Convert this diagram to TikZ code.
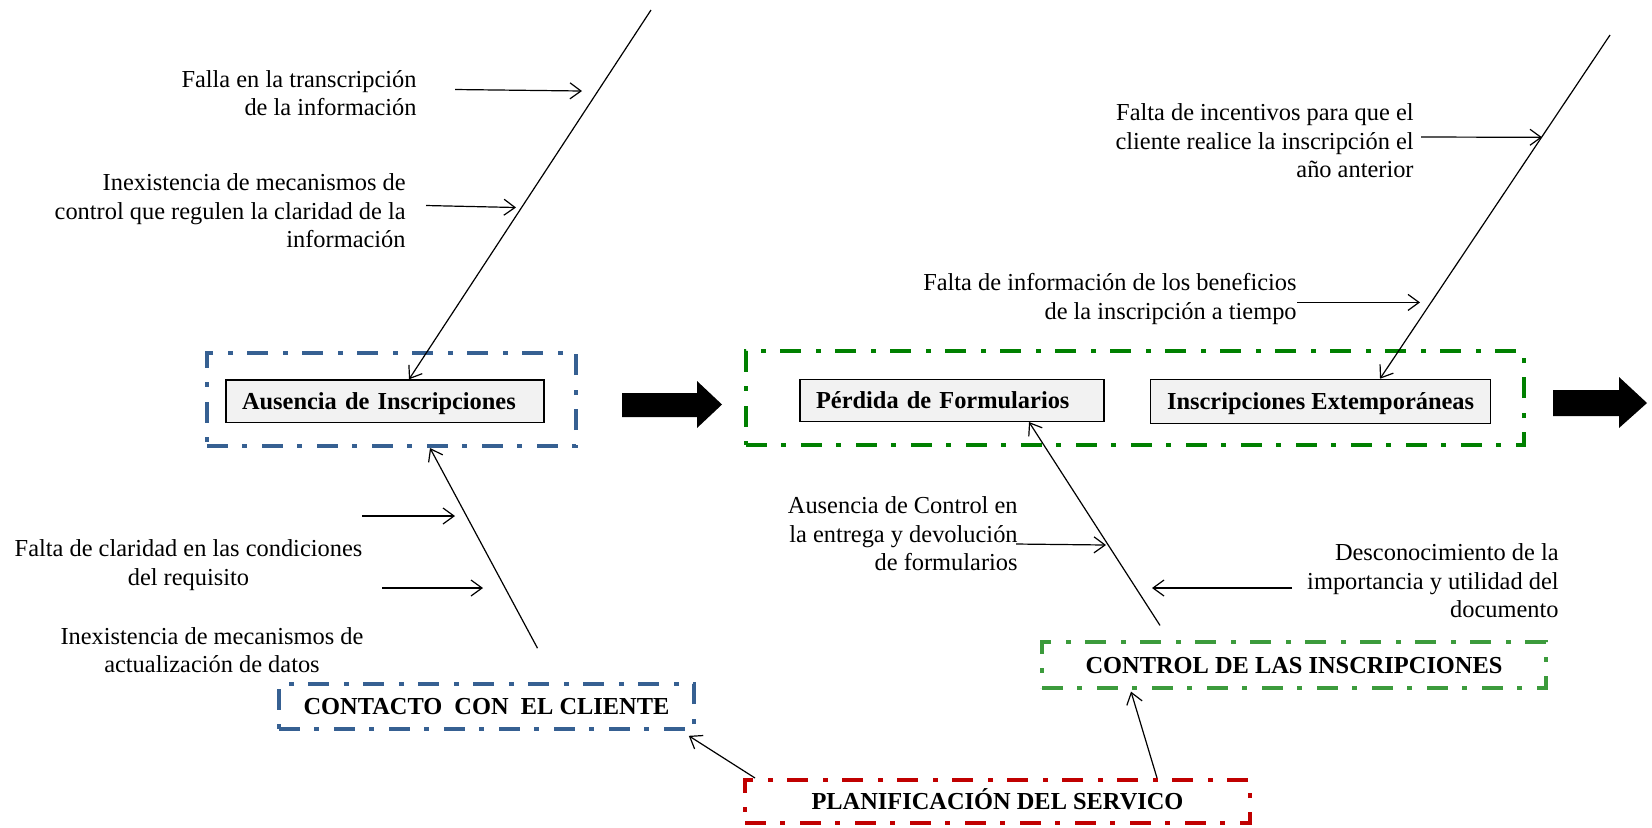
\documentclass[tikz,border=0pt]{standalone}
\usepackage{fontspec}
\setmainfont{Liberation Serif}
\usetikzlibrary{arrows.meta,calc}

\definecolor{boxblue}{RGB}{54,96,146}
\definecolor{darkgreen}{RGB}{0,128,0}
\definecolor{lightgreen}{RGB}{60,155,60}
\definecolor{boxred}{RGB}{192,0,0}
\definecolor{boxfill}{RGB}{242,242,242}

\tikzset{
  dashdot/.style={dash pattern=on 10.5pt off 7pt on 2.5pt off 7.5pt},
  frame/.style={draw, dashdot, inner sep=0pt, text height=8pt, text depth=0pt,
                font=\bfseries\fontsize{12.2}{14}\selectfont},
  effect/.style={draw=black, fill=boxfill, line width=0.7pt, inner sep=0pt,
                 text height=8pt, text depth=0pt,
                 font=\bfseries\fontsize{12.2}{14}\selectfont},
  cause/.style={font=\fontsize{12.2}{14.25}\selectfont, inner sep=0pt},
  arr/.style={-{Straight Barb[length=5.5pt,width=8pt]}, line width=0.6pt},
  bigarrow/.style={fill=black},
}

\begin{document}
\begin{tikzpicture}[x=0.5pt,y=-0.5pt]
\path[use as bounding box] (0,0) rectangle (1652,827);

% ---- problem groups ----
\node[frame, draw=boxblue, line width=2pt, minimum width=184.5pt, minimum height=46.5pt]
  (grpA) at (391.5,399.5) {};
\node[effect, minimum width=159pt, minimum height=21.3pt, text width=143pt, align=left]
  (ausencia) at (385,401.3) {Ausencia de Inscripciones};

\node[frame, draw=darkgreen, line width=1.8pt, minimum width=389pt, minimum height=47pt]
  (grpB) at (1135,398) {};
\node[effect, minimum width=152pt, minimum height=21pt, text width=136pt, align=left]
  (perdida) at (952,400.3) {Pérdida de Formularios};
\node[effect, minimum width=170pt, minimum height=22pt]
  (extemp) at (1320.6,401.4) {Inscripciones Extemporáneas};

% ---- cause categories ----
\node[frame, draw=boxblue, line width=1.8pt, minimum width=207.5pt, minimum height=22.5pt]
  (contacto) at (486.5,706.5) {CONTACTO\ \ CON\ \ EL CLIENTE};
\node[frame, draw=lightgreen, line width=1.6pt, minimum width=252pt, minimum height=23pt]
  (control) at (1294,665) {CONTROL DE LAS INSCRIPCIONES};
\node[frame, draw=boxred, line width=2pt, minimum width=252.5pt, minimum height=21.5pt]
  (plan) at (997.5,801.5) {PLANIFICACIÓN DEL SERVICO};

% ---- flow arrows ----
\fill[bigarrow] (622,393) -- (697,393) -- (697,381) -- (722,404.5) -- (697,428)
  -- (697,417) -- (622,417) -- cycle;
\fill[bigarrow] (1553,390) -- (1619,390) -- (1619,377) -- (1647,403) -- (1619,428)
  -- (1619,416) -- (1553,416) -- cycle;

% ---- cause texts ----
\node[cause, align=right, anchor=east] (c1) at (417,93)
  {Falla en la transcripción\\de la información};
\node[cause, align=right, anchor=east] (c2) at (406,211)
  {Inexistencia de mecanismos de\\control que regulen la claridad de la\\información};
\node[cause, align=center] (c3) at (188.5,565)
  {Falta de claridad en las condiciones\\del requisito};
\node[cause, align=center] (c4) at (212,650)
  {Inexistencia de mecanismos de\\actualización de datos};
\node[cause, align=right, anchor=east] (c5) at (1414,141)
  {Falta de incentivos para que el\\cliente realice la inscripción el\\año anterior};
\node[cause, align=right, anchor=east] (c6) at (1297,299)
  {Falta de información de los beneficios\\de la inscripción a tiempo};
\node[cause, align=right, anchor=east] (c7) at (1018,534)
  {Ausencia de Control en\\la entrega y devolución\\de formularios};
\node[cause, align=right, anchor=east] (c8) at (1559,581)
  {Desconocimiento de la\\importancia y utilidad del\\documento};

% ---- spine ends and branch ends ----
\coordinate (sA) at (651,10);
\coordinate (sC) at (1610,35);
\coordinate (b1s) at (455,89.5);   \coordinate (b1e) at (582,91);
\coordinate (b2s) at (426,205.5);  \coordinate (b2e) at (516,207.5);
\coordinate (b3s) at (362,516);    \coordinate (b3e) at (455,516);
\coordinate (b4s) at (382,588);    \coordinate (b4e) at (483,588);
\coordinate (b5s) at (1421,137);   \coordinate (b5e) at (1542,137.3);
\coordinate (b6s) at (1297,302.4); \coordinate (b6e) at (1420,302.4);
\coordinate (b7s) at (1016,544);   \coordinate (b7e) at (1106,545);
\coordinate (b8s) at (1292,588);   \coordinate (b8e) at (1152,588);

% ---- spines ----
\draw[arr] (sA) -- ([xshift=12pt]ausencia.north);
\draw[arr] ([xshift=25.5pt,yshift=17pt]contacto.north) -- ([xshift=19.25pt]grpA.south);
\draw[arr] ([xshift=-67pt,yshift=7.5pt]control.north) -- ([xshift=38.5pt]perdida.south);
\draw[arr] (sC) -- ([xshift=29.7pt]extemp.north);
\draw[arr] ([xshift=6pt]plan.north west) -- ([xshift=-3.5pt,yshift=-2.5pt]contacto.south east);
\draw[arr] ([xshift=79.75pt]plan.north) -- ([xshift=-81.5pt,yshift=-1pt]control.south);

% ---- branches ----
\foreach \i in {1,...,8} { \draw[arr] (b\i s) -- (b\i e); }

\end{tikzpicture}
\end{document}
